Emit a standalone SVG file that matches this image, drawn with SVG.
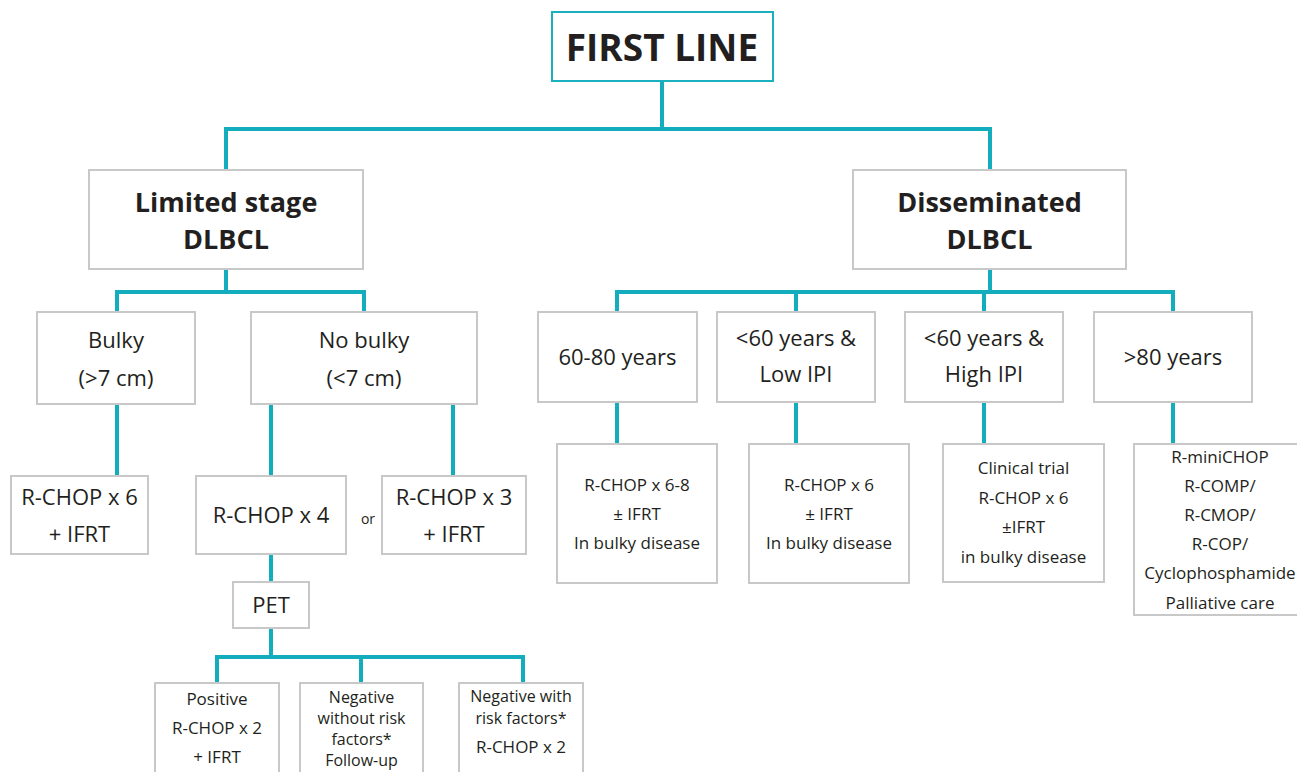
<svg xmlns="http://www.w3.org/2000/svg" width="1297" height="772" viewBox="0 0 1297 772">
<style>
.bx{fill:#ffffff;stroke:#c8c8c8;stroke-width:2}
.bt{fill:#ffffff;stroke:#1ab0be;stroke-width:2}
.cn{fill:none;stroke:#13adbd;stroke-width:4;stroke-linejoin:miter;stroke-linecap:butt}
text{font-family:"Open Sans","DejaVu Sans",sans-serif;fill:#231f20;text-anchor:middle}
.h1{font-size:37px;font-weight:700}
.h2{font-size:27px;font-weight:700}
.m{font-size:22px}
.s{font-size:17px}
.t{font-size:16px}
.or{font-size:14px}
</style>
<rect width="1297" height="772" fill="#ffffff"/>
<g id="connectors">
<path class="cn" d="M662 81 V129"/>
<path class="cn" d="M226 170 V129 H990 V170"/>
<path class="cn" d="M226 269 V292"/>
<path class="cn" d="M117 311 V292 H364 V311"/>
<path class="cn" d="M117 404 V476"/>
<path class="cn" d="M271 404 V476"/>
<path class="cn" d="M453 404 V476"/>
<path class="cn" d="M271 554 V582"/>
<path class="cn" d="M271 628 V657"/>
<path class="cn" d="M217 683 V657 H523 V683"/>
<path class="cn" d="M361 657 V683"/>
<path class="cn" d="M990 269 V292"/>
<path class="cn" d="M617 311 V292 H1173 V311"/>
<path class="cn" d="M796 292 V311"/>
<path class="cn" d="M984 292 V311"/>
<path class="cn" d="M617 402 V444"/>
<path class="cn" d="M796 402 V444"/>
<path class="cn" d="M984 402 V444"/>
<path class="cn" d="M1173 402 V444"/>
</g>
<g id="first-line">
<rect class="bt" x="552" y="12" width="221" height="69"/>
<text class="h1" x="662" y="61">FIRST LINE</text>
</g>
<g id="limited">
<rect class="bx" x="89" y="170" width="274" height="99"/>
<text class="h2" x="226" y="212">Limited stage</text>
<text class="h2" x="226" y="249">DLBCL</text>
</g>
<g id="disseminated">
<rect class="bx" x="853" y="170" width="273" height="99"/>
<text class="h2" x="989.5" y="212">Disseminated</text>
<text class="h2" x="989.5" y="249">DLBCL</text>
</g>
<g id="bulky">
<rect class="bx" x="37" y="312" width="158" height="92"/>
<text class="m" x="116" y="348">Bulky</text>
<text class="m" x="116" y="386">(&gt;7 cm)</text>
</g>
<g id="nobulky">
<rect class="bx" x="251" y="312" width="226" height="92"/>
<text class="m" x="364" y="348">No bulky</text>
<text class="m" x="364" y="386">(&lt;7 cm)</text>
</g>
<g id="rchop6-ifrt">
<rect class="bx" x="11" y="476" width="137" height="78"/>
<text class="m" x="79.5" y="505">R-CHOP x 6</text>
<text class="m" x="79.5" y="542">+ IFRT</text>
</g>
<g id="rchop4">
<rect class="bx" x="196" y="476" width="150" height="78"/>
<text class="m" x="271" y="523">R-CHOP x 4</text>
</g>
<text class="or" x="368" y="524">or</text>
<g id="rchop3-ifrt">
<rect class="bx" x="382" y="476" width="144" height="78"/>
<text class="m" x="454" y="505">R-CHOP x 3</text>
<text class="m" x="454" y="542">+ IFRT</text>
</g>
<g id="pet">
<rect class="bx" x="233" y="582" width="76" height="46"/>
<text class="m" x="271" y="613">PET</text>
</g>
<g id="positive">
<rect class="bx" x="155" y="683" width="124" height="110"/>
<text class="s" x="217" y="705">Positive</text>
<text class="s" x="217" y="734">R-CHOP x 2</text>
<text class="s" x="217" y="763">+ IFRT</text>
</g>
<g id="negative-without">
<rect class="bx" x="300" y="683" width="123" height="110"/>
<text class="t" x="361.5" y="703">Negative</text>
<text class="t" x="361.5" y="724">without risk</text>
<text class="t" x="361.5" y="745">factors*</text>
<text class="t" x="361.5" y="766">Follow-up</text>
</g>
<g id="negative-with">
<rect class="bx" x="459" y="683" width="124" height="110"/>
<text class="t" x="521" y="702">Negative with</text>
<text class="t" x="521" y="724">risk factors*</text>
<text class="s" x="521" y="753">R-CHOP x 2</text>
</g>
<g id="age-60-80">
<rect class="bx" x="538" y="312" width="159" height="90"/>
<text class="m" x="617.5" y="365">60-80 years</text>
</g>
<g id="lt60-low">
<rect class="bx" x="717" y="312" width="158" height="90"/>
<text class="m" x="796" y="346">&lt;60 years &amp;</text>
<text class="m" x="796" y="382">Low IPI</text>
</g>
<g id="lt60-high">
<rect class="bx" x="905" y="312" width="158" height="90"/>
<text class="m" x="984" y="346">&lt;60 years &amp;</text>
<text class="m" x="984" y="382">High IPI</text>
</g>
<g id="gt80">
<rect class="bx" x="1094" y="312" width="158" height="90"/>
<text class="m" x="1173" y="365">&gt;80 years</text>
</g>
<g id="tx-60-80">
<rect class="bx" x="557" y="444" width="160" height="139"/>
<text class="s" x="637" y="491">R-CHOP x 6-8</text>
<text class="s" x="637" y="520">± IFRT</text>
<text class="s" x="637" y="549">In bulky disease</text>
</g>
<g id="tx-low">
<rect class="bx" x="749" y="444" width="160" height="139"/>
<text class="s" x="829" y="491">R-CHOP x 6</text>
<text class="s" x="829" y="520">± IFRT</text>
<text class="s" x="829" y="549">In bulky disease</text>
</g>
<g id="tx-high">
<rect class="bx" x="943" y="444" width="161" height="138"/>
<text class="s" x="1023.5" y="474">Clinical trial</text>
<text class="s" x="1023.5" y="504">R-CHOP x 6</text>
<text class="s" x="1023.5" y="533">±IFRT</text>
<text class="s" x="1023.5" y="563">in bulky disease</text>
</g>
<g id="tx-gt80">
<rect class="bx" x="1134" y="444" width="175" height="171"/>
<text class="s" x="1220" y="463">R-miniCHOP</text>
<text class="s" x="1220" y="492">R-COMP/</text>
<text class="s" x="1220" y="521">R-CMOP/</text>
<text class="s" x="1220" y="550">R-COP/</text>
<text class="s" x="1220" y="579">Cyclophosphamide</text>
<text class="s" x="1220" y="609">Palliative care</text>
</g>
</svg>
